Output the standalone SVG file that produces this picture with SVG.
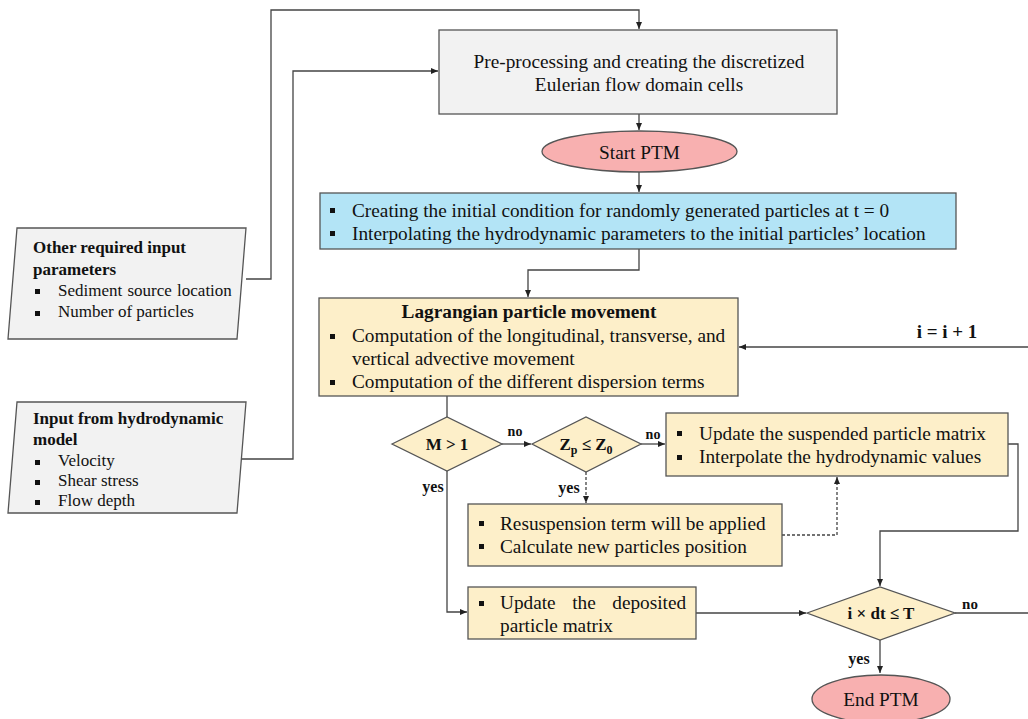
<svg xmlns="http://www.w3.org/2000/svg" width="1028" height="719" viewBox="0 0 1028 719">
<style>
text{font-family:"Liberation Serif","DejaVu Serif",serif;fill:#111}
.t{font-size:19.3px}
.s{font-size:17px}
.b{font-weight:bold}
.gray{fill:#f2f2f2;stroke:#555;stroke-width:1.3}
.blue{fill:#b3e4f6;stroke:#555;stroke-width:1.3}
.yel{fill:#fdefc9;stroke:#555;stroke-width:1.3}
.pink{fill:#f8b0b0;stroke:#555;stroke-width:1.3}
.c{fill:none;stroke:#444;stroke-width:1.3}
.d{fill:none;stroke:#444;stroke-width:1.3;stroke-dasharray:3 2}
.bl{fill:#111}
</style>
<defs>
<marker id="a" markerWidth="8" markerHeight="8" refX="7" refY="4" orient="auto" markerUnits="userSpaceOnUse">
<path d="M0,1 L7,4 L0,7 Z" fill="#222"/>
</marker>
</defs>
<g id="connectors">
<path class="c" d="M246,279 H271 V10 H639 V29" marker-end="url(#a)"/>
<path class="c" d="M240,459 H293 V71 H438" marker-end="url(#a)"/>
<path class="c" d="M639,114 V130" marker-end="url(#a)"/>
<path class="c" d="M639,172 V192" marker-end="url(#a)"/>
<path class="c" d="M639,249 V270 H528 V297" marker-end="url(#a)"/>
<path class="c" d="M1028,347 H739" marker-end="url(#a)"/>
<path class="c" d="M447,396 V417"/>
<path class="c" d="M502,444 H531" marker-end="url(#a)"/>
<path class="c" d="M641,444 H665" marker-end="url(#a)"/>
<path class="d" d="M586,472 V503" marker-end="url(#a)"/>
<path class="d" d="M782,535 H837 V477" marker-end="url(#a)"/>
<path class="c" d="M1008,444 H1018 V531 H880 V586" marker-end="url(#a)"/>
<path class="c" d="M447,471 V612 H467" marker-end="url(#a)"/>
<path class="c" d="M696,613 H806" marker-end="url(#a)"/>
<path class="c" d="M955,613 H1028"/>
<path class="c" d="M880,640 V673" marker-end="url(#a)"/>
<text class="b" style="font-size:19px" x="947" y="338" text-anchor="middle">i = i + 1</text>
<text class="b" style="font-size:14px" x="515" y="436" text-anchor="middle">no</text>
<text class="b" style="font-size:14px" x="653" y="439" text-anchor="middle">no</text>
<text class="b" style="font-size:16px" x="433" y="492" text-anchor="middle">yes</text>
<text class="b" style="font-size:16px" x="569" y="493" text-anchor="middle">yes</text>
<text class="b" style="font-size:15px" x="970" y="609" text-anchor="middle">no</text>
<text class="b" style="font-size:16px" x="859" y="664" text-anchor="middle">yes</text>
</g>
<g id="other-input">
<polygon class="gray" points="17,228 246,228 237,339 8,339"/>
<text class="s b" x="33" y="253">Other required input</text>
<text class="s b" x="33" y="275">parameters</text>
<rect class="bl" x="35" y="289" width="5" height="5"/>
<text class="s" x="58" y="296" word-spacing="1">Sediment source location</text>
<rect class="bl" x="35" y="311" width="5" height="5"/>
<text class="s" x="58" y="317">Number of particles</text>
</g>
<g id="hydro-input">
<polygon class="gray" points="17,402 246,402 237,513 8,513"/>
<text class="s b" x="33" y="424">Input from hydrodynamic</text>
<text class="s b" x="33" y="445">model</text>
<rect class="bl" x="35" y="460" width="5" height="5"/>
<text class="s" x="58" y="466">Velocity</text>
<rect class="bl" x="35" y="480" width="5" height="5"/>
<text class="s" x="58" y="486">Shear stress</text>
<rect class="bl" x="35" y="500" width="5" height="5"/>
<text class="s" x="58" y="506">Flow depth</text>
</g>
<g id="preprocessing">
<rect class="gray" x="439" y="30" width="398" height="84"/>
<text class="t" x="639" y="68" text-anchor="middle">Pre-processing and creating the discretized</text>
<text class="t" x="639" y="91" text-anchor="middle">Eulerian flow domain cells</text>
</g>
<g id="start-ptm">
<ellipse class="pink" cx="639.5" cy="151.5" rx="97.5" ry="20.5"/>
<text class="t" x="639.5" y="158.5" text-anchor="middle">Start PTM</text>
</g>
<g id="initial-condition">
<rect class="blue" x="320" y="193" width="636" height="56"/>
<rect class="bl" x="330" y="208" width="5" height="5"/>
<text class="t" x="352" y="217">Creating the initial condition for randomly generated particles at t = 0</text>
<rect class="bl" x="330" y="231" width="5" height="5"/>
<text class="t" x="352" y="240">Interpolating the hydrodynamic parameters to the initial particles’ location</text>
</g>
<g id="lagrangian">
<rect class="yel" x="319" y="298" width="419" height="98"/>
<text class="t b" x="529" y="318" text-anchor="middle">Lagrangian particle movement</text>
<rect class="bl" x="330" y="334" width="5" height="5"/>
<text class="t" x="352" y="342">Computation of the longitudinal, transverse, and</text>
<text class="t" x="352" y="365">vertical advective movement</text>
<rect class="bl" x="330" y="380" width="5" height="5"/>
<text class="t" x="352" y="388">Computation of the different dispersion terms</text>
</g>
<g id="m-gt-1">
<polygon class="yel" points="392,444 447,417 502,444 447,471"/>
<text class="s b" x="447" y="450" text-anchor="middle">M &gt; 1</text>
</g>
<g id="zp-le-z0">
<polygon class="yel" points="532,444 586,417 641,444 586,472"/>
<text class="s b" x="586" y="450" text-anchor="middle">Z<tspan dy="4" style="font-size:12px">p</tspan><tspan dy="-4"> ≤ Z</tspan><tspan dy="4" style="font-size:12px">0</tspan></text>
</g>
<g id="update-suspended">
<rect class="yel" x="666" y="413" width="342" height="63"/>
<rect class="bl" x="677" y="431" width="5" height="5"/>
<text class="t" x="699" y="440">Update the suspended particle matrix</text>
<rect class="bl" x="677" y="455" width="5" height="5"/>
<text class="t" x="699" y="463">Interpolate the hydrodynamic values</text>
</g>
<g id="resuspension">
<rect class="yel" x="468" y="504" width="314" height="62"/>
<rect class="bl" x="479" y="521" width="5" height="5"/>
<text class="t" x="500" y="530">Resuspension term will be applied</text>
<rect class="bl" x="479" y="544" width="5" height="5"/>
<text class="t" x="500" y="553">Calculate new particles position</text>
</g>
<g id="update-deposited">
<rect class="yel" x="468" y="587" width="228" height="52"/>
<rect class="bl" x="479" y="601" width="5" height="5"/>
<text class="t" x="500" y="609" word-spacing="11.7">Update the deposited</text>
<text class="t" x="500" y="632">particle matrix</text>
</g>
<g id="time-check">
<polygon class="yel" points="807,613 880,587 955,613 880,640"/>
<text class="s b" x="881" y="619" text-anchor="middle">i × dt ≤ T</text>
</g>
<g id="end-ptm">
<ellipse class="pink" cx="881" cy="699" rx="69" ry="24"/>
<text class="t" x="881" y="706" text-anchor="middle">End PTM</text>
</g>
</svg>
